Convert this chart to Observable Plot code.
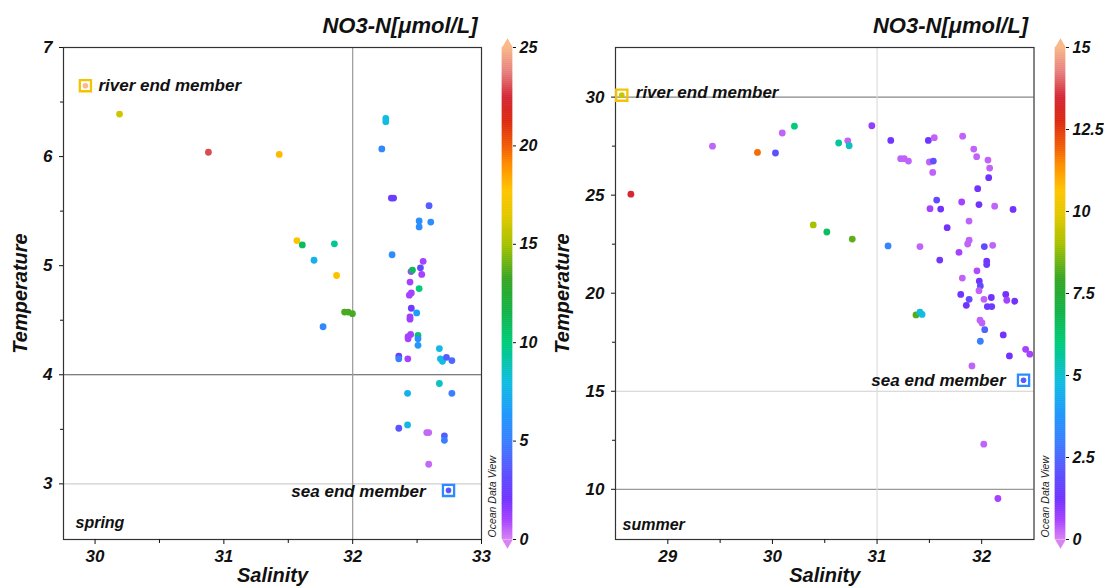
<!DOCTYPE html>
<html><head><meta charset="utf-8">
<script src="https://cdn.jsdelivr.net/npm/d3@7"></script>
<script src="https://cdn.jsdelivr.net/npm/@observablehq/plot@0.6"></script>
<style>
body{margin:0;background:#fff;}
#wrap{position:relative;width:1104px;height:587px;overflow:hidden;font-family:"Liberation Sans",Arial,sans-serif;}
#wrap > div{position:absolute;top:0;}
</style></head><body>
<div id="wrap"><div id="p1" style="left:0px"></div><div id="c1" style="left:485px"></div><div id="p2" style="left:552px"></div><div id="c2" style="left:1035px"></div></div>
<script>
// ---------- spring ----------
const springSal = [30.19,30.88,31.43,32.257,32.257,32.226,32.300,32.318,32.593,32.516,32.516,32.606,31.567,31.609,31.858,31.70,31.875,32.306,32.547,32.453,32.464,32.526,32.536,32.445,32.516,32.44,32.455,31.937,31.965,31.998,31.77,32.455,32.497,32.445,32.445,32.43,32.45,32.43,32.507,32.507,32.507,32.358,32.358,32.428,32.673,32.681,32.697,32.728,32.77,32.673,32.426,32.77,32.358,32.426,32.575,32.59,32.712,32.712,32.59];
const springTemp = [6.39,6.04,6.02,6.35,6.32,6.07,5.62,5.62,5.55,5.41,5.355,5.40,5.23,5.19,5.20,5.05,4.91,5.10,5.04,4.946,4.96,4.98,4.92,4.85,4.79,4.73,4.75,4.575,4.575,4.56,4.44,4.61,4.567,4.53,4.51,4.35,4.37,4.33,4.36,4.33,4.27,4.17,4.146,4.146,4.24,4.146,4.124,4.16,4.13,3.92,3.83,3.83,3.51,3.54,3.47,3.47,3.44,3.40,3.18];
const springNO3 = [16,23,18,8,8,5.5,2.5,2.5,3.8,5.8,5.8,5.8,17.5,11,9.5,7.5,17.8,5.8,1,1,11,3,1,1,10,1,1,13.5,13.5,13.5,5.5,2.5,6.5,1.2,1.2,1,1,1,10.5,6,6.3,2.5,5,1,7.8,7.8,7.8,3.8,4.2,8.5,7.5,5,3.5,7.8,0.4,0.4,3.8,5,0.4];
const springEndSal = [29.925, 32.744];
const springEndTemp = [6.65, 2.94];
const springEndNO3 = [26, 3.5];

// ---------- summer ----------
const summerSal = [28.647,29.427,29.857,30.029,30.094,30.21,30.633,30.72,30.733,30.95,31.131,31.49,31.547,31.818,31.226,31.26,31.30,31.50,31.538,31.532,31.924,31.952,32.06,32.076,32.067,31.962,31.57,31.506,31.608,31.809,31.974,32.124,32.30,31.67,31.879,31.88,31.866,32.025,32.105,31.105,31.41,31.783,31.599,32.048,32.048,31.955,31.815,31.977,31.987,31.974,31.80,31.88,31.853,32.022,32.092,32.054,32.096,32.23,32.24,32.316,31.372,31.41,31.43,31.984,32.003,32.029,32.206,31.987,32.42,32.46,32.265,31.907,32.02,32.155,30.39,30.52,30.763];
const summerTemp = [25.05,27.50,27.18,27.15,28.17,28.52,27.66,27.77,27.52,28.54,27.79,27.79,27.93,28.01,26.86,26.86,26.74,26.69,26.74,26.16,27.35,26.96,26.79,26.38,25.89,25.33,24.75,24.31,24.29,24.65,24.52,24.44,24.27,23.34,23.68,22.70,22.51,22.38,22.44,22.41,22.38,22.08,21.69,21.64,21.46,21.14,20.77,20.62,20.37,20.13,19.94,19.69,19.38,19.69,19.78,19.32,19.32,19.94,19.64,19.59,18.89,19.03,18.92,18.62,18.48,18.14,17.87,17.55,17.14,16.89,16.8,16.29,12.30,9.53,23.48,23.12,22.76];
const summerNO3 = [13.4,0.3,11.8,2.0,0.3,6.0,5.6,0.3,5.2,0.8,1.3,1.3,0.3,0.3,0.3,0.3,0.3,0.3,2.0,0.3,0.3,0.3,0.3,0.3,1.2,1.2,1.8,0.6,1.2,0.6,1.2,0.3,1.2,1.2,0.3,0.3,0.3,1.8,0.3,3.2,0.3,0.6,1.3,1.3,1.4,0.5,0.3,1.2,1.8,0.3,1.2,1.8,1.2,0.3,1.2,1.4,1.4,1.2,0.6,1.2,8.2,4.8,4.8,0.3,0.3,2.4,1.2,3.0,0.6,0.6,1.2,0.3,0.3,0.6,9,6.5,8.3];
const summerEndSal = [28.56, 32.40];
const summerEndTemp = [30.1, 15.56];
const summerEndNO3 = [9.5, 2.2];

const endLabels = ["river end member", "sea end member"];
const titleText = "NO3-N[μmol/L]";
const springTicksX = [30,31,32,33], springTicksY = [3,4,5,6,7];
const summerTicksX = [29,30,31,32], summerTicksY = [10,15,20,25,30];
const springBarTicks = [0,5,10,15,20,25];
const summerBarTicks = [0,2.5,5,7.5,10,12.5,15];

// ODV-like colour map
const odvStops = [0,0.04,0.08,0.14,0.2,0.26,0.32,0.4,0.46,0.53,0.6,0.66,0.71,0.76,0.8,0.85,0.9,0.95,1];
const odvColors = ["#d883f2","#a642ff","#7333ff","#5a55ff","#3a7fff","#1e9cfa","#10bde0","#00cc7a","#12b44a","#38a625","#a8c200","#e4c800","#ffc400","#ff9000","#f05a05","#dc2a12","#d42838","#e6807e","#f9b98a"];

const FONT = "'Liberation Sans', Arial, Helvetica, sans-serif";
const colorOpts = max => ({type:"linear", domain: odvStops.map(t => t*max), range: odvColors, interpolate:"rgb", clamp:true});
const rows = (s,t,n) => s.map((d,i) => ({sal:d, temp:t[i], no3:n[i]}));
const fmt = d => String(d);

function panel(o) {
  const pts = rows(o.sal, o.temp, o.no3);
  const ends = rows(o.endSal, o.endTemp, o.endNO3).map((d,i) => ({...d, label: endLabels[i]}));
  return Plot.plot({
    width: o.width, height: 587,
    marginLeft: o.ml, marginRight: o.mr, marginTop: 47, marginBottom: 48,
    style: {fontFamily: FONT, fontSize: "17px", fontWeight: "bold", fontStyle: "italic", color: "#111", background: "transparent", overflow: "visible"},
    x: {domain: o.xd, label: null},
    y: {domain: o.yd, label: null},
    color: colorOpts(o.cmax),
    marks: [
      ...o.rulesY.map(([v,c]) => Plot.ruleY([v], {stroke: c, strokeWidth: 1.2})),
      ...o.rulesX.map(([v,c]) => Plot.ruleX([v], {stroke: c, strokeWidth: 1.2})),
      Plot.frame({stroke: "#333", strokeWidth: 1.2}),
      Plot.axisX({ticks: o.tx, tickSize: 5, tickPadding: 5, tickFormat: fmt, label: null}),
      Plot.axisX({ticks: o.txm, tickSize: 4, tickFormat: () => "", label: null}),
      Plot.axisY({ticks: o.ty, tickSize: 4, tickPadding: 7, tickFormat: fmt, label: null}),
      Plot.axisY({ticks: o.tym, tickSize: 3, tickFormat: () => "", label: null}),
      Plot.dot(pts, {x: "sal", y: "temp", fill: "no3", r: 3.4}),
      Plot.dot(ends, {x: "sal", y: "temp", fill: "no3", r: 2.8}),
      Plot.dot(ends.slice(0,1), {x: "sal", y: "temp", symbol: "square", r: 6.3, stroke: "#f5c400", strokeWidth: 2.3, fill: "none"}),
      Plot.dot(ends.slice(1), {x: "sal", y: "temp", symbol: "square", r: 6.3, stroke: "#2a8cff", strokeWidth: 2.3, fill: "none"}),
      Plot.text(ends.slice(0,1), {x: "sal", y: "temp", text: "label", textAnchor: "start", dx: o.rdx, dy: o.rdy, fill: "#111"}),
      Plot.text(ends.slice(1), {x: "sal", y: "temp", text: "label", textAnchor: "end", dx: o.sdx, dy: o.sdy, fill: "#111"}),
      Plot.text([o.season], {frameAnchor: "bottom-left", textAnchor: "start", lineAnchor: "middle", dx: o.seasonDx, dy: o.seasonDy, fontSize: 16}),
      Plot.text([titleText], {frameAnchor: "top-right", textAnchor: "end", lineAnchor: "middle", dx: o.titleDx, dy: -22, fontSize: 22}),
      Plot.text(["Salinity"], {frameAnchor: "bottom", textAnchor: "middle", lineAnchor: "middle", dy: 36, fontSize: 20}),
      Plot.text(["Temperature"], {frameAnchor: "left", textAnchor: "middle", lineAnchor: "middle", rotate: -90, dx: o.tempDx, fontSize: 20})
    ]
  });
}

function colorbar(o) {
  const n = 250;
  const cells = d3.range(n).map(i => ({lo: i*o.max/n, hi: (i+1)*o.max/n, mid: (i+0.5)*o.max/n}));
  return Plot.plot({
    width: o.width, height: 587,
    marginLeft: o.ml, marginRight: o.width - o.ml - 10, marginTop: 47, marginBottom: 48,
    style: {fontFamily: FONT, fontSize: "16px", fontWeight: "bold", fontStyle: "italic", color: "#111", background: "transparent", overflow: "visible"},
    y: {domain: [0, o.max], label: null},
    color: colorOpts(o.max),
    marks: [
      Plot.rect(cells, {y1: "lo", y2: "hi", fill: "mid", stroke: "mid", strokeWidth: 0.6}),
      Plot.dot([o.max], {y: d => d, symbol: "triangle", r: 4, fill: odvColors[odvColors.length-1], dy: -3}),
      Plot.dot([0], {y: d => d, symbol: "triangle", r: 4, rotate: 180, fill: odvColors[0], dy: 3}),
      Plot.axisY({anchor: "right", ticks: o.ticks, tickSize: 3, tickPadding: 4, tickFormat: fmt, label: null}),
      Plot.text(["Ocean Data View"], {frameAnchor: "bottom-left", textAnchor: "start", lineAnchor: "middle", rotate: -90, dx: -10, dy: -2, fontSize: 10.5, fontWeight: "normal", fontStyle: "italic", fill: "#222"})
    ]
  });
}

document.getElementById("p1").append(panel({
  width: 485, ml: 63, mr: 4, xd: [29.755, 33.0], yd: [2.49, 7.0], cmax: 25,
  sal: springSal, temp: springTemp, no3: springNO3,
  endSal: springEndSal, endTemp: springEndTemp, endNO3: springEndNO3,
  tx: springTicksX, txm: [30.5,31.5,32.5], ty: springTicksY, tym: [3.5,4.5,5.5,6.5],
  rulesY: [[4,"#555"],[3,"#cfcfcf"]], rulesX: [[32,"#999"]],
  rdx: 13, rdy: 0, sdx: -23, sdy: 1,
  season: "spring", seasonDx: 12, seasonDy: -17, titleDx: -4, tempDx: -43
}));
document.getElementById("c1").append(colorbar({width: 70, ml: 17, max: 25, ticks: springBarTicks}));
document.getElementById("p2").append(panel({
  width: 483, ml: 63, mr: 1.5, xd: [28.5, 32.5], yd: [7.44, 32.53], cmax: 15,
  sal: summerSal, temp: summerTemp, no3: summerNO3,
  endSal: summerEndSal, endTemp: summerEndTemp, endNO3: summerEndNO3,
  tx: summerTicksX, txm: [29.5,30.5,31.5], ty: summerTicksY, tym: [12.5,17.5,22.5,27.5],
  rulesY: [[30,"#888"],[15,"#cfcfcf"],[10,"#999"]], rulesX: [[31,"#dcdcdc"]],
  rdx: 14, rdy: -3, sdx: -18, sdy: 0,
  season: "summer", seasonDx: 7, seasonDy: -15, titleDx: -6, tempDx: -53
}));
document.getElementById("c2").append(colorbar({width: 69, ml: 20, max: 15, ticks: summerBarTicks}));
</script>
</body></html>
